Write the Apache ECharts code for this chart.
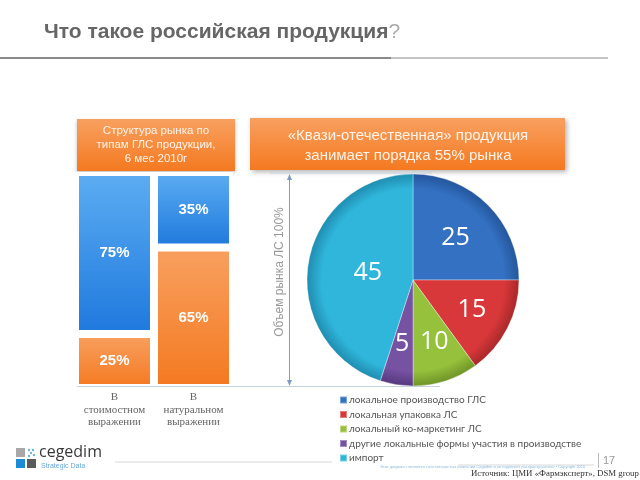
<!DOCTYPE html>
<html><head><meta charset="utf-8">
<script src="https://cdn.jsdelivr.net/npm/echarts@6/dist/echarts.min.js"></script>
<style>html,body{margin:0;padding:0;background:#fff}#c{width:640px;height:480px}</style>
</head><body><div id="c"></div>
<script>
const barCategories = ['В\nстоимостном\nвыражении', 'В\nнатуральном\nвыражении'];
const barBlue = [75, 35];
const barOrange = [25, 65];
const pieNames = ['локальное производство ГЛС', 'локальная упаковка ЛС', 'локальный ко-маркетинг ЛС', 'другие локальные формы участия в производстве', 'импорт'];
const pieValues = [25, 15, 10, 5, 45];
const pieColors = ['#3471c2', '#d9383a', '#95c13c', '#7652a3', '#30b6db'];
const pieEdge = ['#24569c', '#a9282a', '#6f9427', '#56387d', '#1f8db0'];
const pieLabelNudge = [[3, -3], [9, 4], [4, 9], [-2, 9], [10, 2]];

const chart = echarts.init(document.getElementById('c'), null, {renderer: 'canvas'});
const PC = [413, 280], PR = 106;

function pieGrad(i) {
  return {type: 'radial', x: PC[0], y: PC[1], r: PR, global: true,
    colorStops: [{offset: 0, color: pieColors[i]}, {offset: 0.86, color: pieColors[i]}, {offset: 1, color: pieEdge[i]}]};
}
const orangeGrad = {type: 'linear', x: 0, y: 0, x2: 0, y2: 1, colorStops: [{offset: 0, color: '#f8a060'}, {offset: 1, color: '#f47920'}]};
const blueGrad = {type: 'linear', x: 0, y: 0, x2: 0, y2: 1, colorStops: [{offset: 0, color: '#5cadf2'}, {offset: 1, color: '#1f79dd'}]};
const sans = 'Liberation Sans, Arial, sans-serif';
const serif = 'Liberation Serif, Times New Roman, serif';
const lineCol = '#c5d2e0';

const option = {
  animation: false,
  backgroundColor: '#fff',
  grid: {left: 75, width: 158, top: 172, bottom: 92},
  xAxis: {type: 'category', data: barCategories,
    axisLine: {show: false}, axisTick: {show: false},
    axisLabel: {interval: 0, margin: 3, fontFamily: serif, fontSize: 11, color: '#666', lineHeight: 12.5}},
  yAxis: {type: 'value', min: 0, max: 100, show: false},
  legend: {
    orient: 'vertical', left: 334, top: 390, itemWidth: 7, itemHeight: 7, itemGap: 4.5,
    icon: 'rect', selectedMode: false,
    textStyle: {fontFamily: 'Lato, sans-serif', fontSize: 10, color: '#555', padding: [0, 0, 0, -3]},
    data: pieNames.map((n, i) => ({name: n, itemStyle: {color: pieColors[i]}}))
  },
  series: [
    {type: 'bar', name: 'orange', stack: 's', data: barOrange, barWidth: 79,
      itemStyle: {color: orangeGrad, borderColor: '#fff', borderWidth: 4},
      label: {show: true, position: 'inside', formatter: '{c}%', color: '#fff', fontSize: 15, fontWeight: 'bold', fontFamily: sans}},
    {type: 'bar', name: 'blue', stack: 's', data: barBlue, barWidth: 79,
      itemStyle: {color: blueGrad, borderColor: '#fff', borderWidth: 4},
      label: {show: true, position: 'inside', formatter: '{c}%', color: '#fff', fontSize: 15, fontWeight: 'bold', fontFamily: sans}},
    {type: 'pie', center: PC, radius: PR, startAngle: 90, clockwise: true, z: 5,
      data: pieNames.map((n, i) => ({name: n, value: pieValues[i], itemStyle: {color: pieGrad(i)}, label: {offset: pieLabelNudge[i]}})),
      itemStyle: {borderColor: 'rgba(255,255,255,0.35)', borderWidth: 1},
      label: {show: true, position: 'inner', formatter: '{c}', color: '#fff', fontSize: 25, fontFamily: 'Open Sans, sans-serif'},
      labelLine: {show: false}, emphasis: {disabled: true}}
  ],
  graphic: [
    {type: 'text', left: 44, top: 22, style: {rich: {
        a: {fontFamily: sans, fontSize: 21, fontWeight: 'bold', fill: '#666'},
        b: {fontFamily: sans, fontSize: 21, fill: '#aaa'}},
      text: '{a|Что такое российская продукция}{b|?}'}},
    {type: 'line', shape: {x1: 0, y1: 58, x2: 391, y2: 58}, style: {stroke: '#8a8a8a', lineWidth: 2}},
    {type: 'line', shape: {x1: 391, y1: 58, x2: 608, y2: 58}, style: {stroke: '#c4c4c4', lineWidth: 2}},
    // header boxes
    {type: 'rect', shape: {x: 77, y: 119, width: 158, height: 52}, style: {fill: orangeGrad, shadowBlur: 4, shadowColor: 'rgba(0,0,0,0.25)', shadowOffsetY: 2}},
    {type: 'text', x: 156, y: 145, style: {text: 'Структура рынка по\nтипам ГЛС продукции,\n6 мес 2010г', fontFamily: sans, fontSize: 11.5, lineHeight: 14, fill: '#fff4ea', textAlign: 'center', textVerticalAlign: 'middle'}},
    {type: 'rect', shape: {x: 250, y: 118, width: 315, height: 52}, style: {fill: orangeGrad, shadowBlur: 5, shadowColor: 'rgba(0,0,0,0.3)', shadowOffsetX: 2, shadowOffsetY: 2}},
    {type: 'text', x: 408, y: 146, style: {text: '«Квази-отечественная» продукция\nзанимает порядка 55% рынка', fontFamily: sans, fontSize: 15, lineHeight: 20, fill: '#fff4ea', textAlign: 'center', textVerticalAlign: 'middle'}},
    // guide lines
    {type: 'line', shape: {x1: 270, y1: 173, x2: 432, y2: 173}, style: {stroke: lineCol, lineWidth: 1}},
    {type: 'line', z: 10, shape: {x1: 77, y1: 386.5, x2: 440, y2: 386.5}, style: {stroke: lineCol, lineWidth: 1}},
    {type: 'line', shape: {x1: 289.5, y1: 176, x2: 289.5, y2: 384}, style: {stroke: '#7d9cc0', lineWidth: 1}},
    {type: 'polygon', shape: {points: [[289.5, 174], [287, 180], [292, 180]]}, style: {fill: '#7d9cc0'}},
    {type: 'polygon', shape: {points: [[289.5, 386], [287, 380], [292, 380]]}, style: {fill: '#7d9cc0'}},
    {type: 'text', x: 280, y: 272, rotation: Math.PI / 2, style: {text: 'Объем рынка ЛС 100%', fontFamily: sans, fontSize: 12, fill: '#999', textAlign: 'center', textVerticalAlign: 'middle'}},
    // logo
    {type: 'rect', shape: {x: 16, y: 448, width: 9, height: 9}, style: {fill: '#a8a8a8'}},
    {type: 'rect', shape: {x: 16, y: 459, width: 9, height: 9}, style: {fill: '#1b8bd6'}},
    {type: 'rect', shape: {x: 27, y: 459, width: 9, height: 9}, style: {fill: '#5a5a5a'}},
    {type: 'circle', shape: {cx: 29, cy: 450, r: 1.2}, style: {fill: '#6fb3e0'}},
    {type: 'circle', shape: {cx: 33, cy: 450, r: 1.2}, style: {fill: '#6fb3e0'}},
    {type: 'circle', shape: {cx: 31, cy: 453, r: 1.2}, style: {fill: '#6fb3e0'}},
    {type: 'circle', shape: {cx: 29, cy: 456, r: 1.2}, style: {fill: '#6fb3e0'}},
    {type: 'circle', shape: {cx: 34, cy: 455, r: 1.2}, style: {fill: '#6fb3e0'}},
    {type: 'text', x: 39, y: 452, style: {text: 'cegedim', fontFamily: 'Open Sans, sans-serif', fontSize: 16, fill: '#3a3a3a', textVerticalAlign: 'middle'}},
    {type: 'text', x: 41, y: 466, style: {text: 'Strategic Data', fontFamily: sans, fontSize: 7, fill: '#6aa8d8', textVerticalAlign: 'middle'}},
    {type: 'line', shape: {x1: 115, y1: 462, x2: 332, y2: 462}, style: {stroke: '#d8d8d8', lineWidth: 1}},
    {type: 'line', shape: {x1: 458, y1: 465, x2: 594, y2: 465}, style: {stroke: '#d8d8d8', lineWidth: 1}},
    {type: 'line', shape: {x1: 598.5, y1: 453, x2: 598.5, y2: 468}, style: {stroke: '#bbb', lineWidth: 1}},
    {type: 'text', x: 603, y: 461, style: {text: '17', fontFamily: sans, fontSize: 11, fill: '#999', textVerticalAlign: 'middle'}},
    {type: 'text', x: 380, y: 467, style: {text: 'Этот документ является собственностью компании Cegedim и не подлежит распространению • Copyright 2010', fontFamily: sans, fontSize: 4, fill: '#8ab8e0', textVerticalAlign: 'middle'}},
    {type: 'text', x: 471, y: 474, style: {text: 'Источник: ЦМИ «Фармэксперт», DSM group', fontFamily: serif, fontSize: 8.8, fill: '#333', textVerticalAlign: 'middle'}}
  ]
};
chart.setOption(option);
</script>
</body></html>
